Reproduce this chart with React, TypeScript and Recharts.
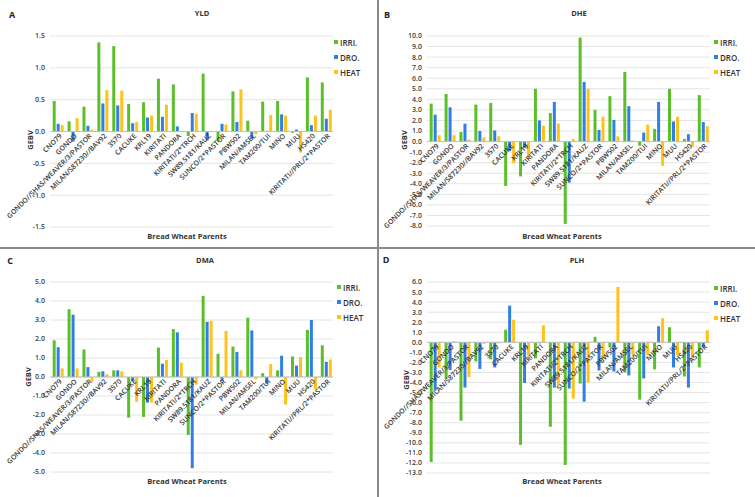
import React from 'react';
import { BarChart, Bar, XAxis, YAxis, CartesianGrid, ReferenceLine, ReferenceDot } from 'recharts';

const FONT = '"Open Sans", "Liberation Sans", sans-serif';

const categories = [
  'CNO79', 'GONDO', 'GONDO//SHAS/WEAVER/3/PASTOR', 'MILAN/S87230//BAV92', '3570', 'CACUKE', 'KRL19',
  'KIRITATI', 'PANDORA', 'KIRITATI/2*TRCH', 'SW89.5181/KAUZ', 'SUNCO/2*PASTOR', 'PBW502', 'MILAN/AMSEL',
  'TAM200/TUI', 'MINO', 'MUU', 'HS420', 'KIRITATI//PRL/2*PASTOR',
];

const seriesNames = ['IRRI.', 'DRO.', 'HEAT'];
const seriesColors = ['#5cbf2a', '#2f7fe6', '#ffc21a'];

// A: YLD
const yldIrri = [0.48, 0.16, 0.39, 1.40, 1.34, 0.43, 0.46, 0.83, 0.74, -0.07, 0.91, -0.15, 0.63, 0.17, 0.47, 0.48, -0.02, 0.85, 0.77];
const yldDro = [0.12, -0.16, 0.09, 0.44, 0.41, 0.13, 0.22, 0.23, 0.08, 0.29, -0.14, 0.12, 0.15, -0.12, 0.01, 0.27, 0.03, 0.10, 0.20];
const yldHeat = [0.10, 0.21, 0.03, 0.65, 0.64, 0.15, 0.25, 0.42, -0.01, 0.28, 0.01, 0.11, 0.66, -0.04, 0.26, 0.25, -0.33, 0.25, 0.34];
const yldTicks = [-1.5, -1.0, -0.5, 0.0, 0.5, 1.0, 1.5];

// B: DHE
const dheIrri = [3.6, 4.5, 0.9, 3.5, 3.65, -4.2, -3.3, 5.0, 2.7, -7.8, 9.85, 3.0, 4.3, 6.6, -0.4, 1.2, 5.0, 0.25, 4.4];
const dheDro = [2.55, 3.25, 1.7, 1.0, 1.05, -0.9, -0.6, 2.0, 3.75, -3.9, 5.65, 1.1, 2.05, 3.35, 0.85, 3.75, 1.9, 0.7, 1.85];
const dheHeat = [0.6, 0.6, 0.2, 0.4, 0.5, -2.05, -1.5, 1.5, 1.7, 0.25, 5.0, 2.35, 0.5, 0.1, 1.6, -2.3, 2.35, -0.5, 1.45];
const dheTicks = [-8, -7, -6, -5, -4, -3, -2, -1, 0, 1, 2, 3, 4, 5, 6, 7, 8, 9, 10];

// C: DMA
const dmaIrri = [1.93, 3.57, 1.45, 0.27, 0.35, -2.15, -2.1, 1.55, 2.52, -3.05, 4.27, 1.22, 1.6, 3.12, 0.2, 0.35, 1.08, 2.48, 1.67];
const dmaDro = [1.57, 3.28, 0.52, 0.3, 0.35, -0.2, -1.35, 0.7, 2.35, -4.8, 2.9, -0.2, 1.32, 2.45, -0.35, 1.12, 0.6, 3.0, 0.8];
const dmaHeat = [0.45, 0.45, -0.25, 0.15, 0.3, -1.3, -1.35, 0.9, 0.75, -0.4, 2.95, 2.42, 0.35, -0.12, 0.68, -1.45, 1.05, -0.65, 0.92];
const dmaTicks = [-5, -4, -3, -2, -1, 0, 1, 2, 3, 4, 5];

// D: PLH
const plhIrri = [-11.9, -3.6, -7.8, -1.9, -1.7, 1.25, -10.2, -1.6, -8.4, -12.2, -4.1, 0.55, -0.5, -3.0, -5.7, -2.7, 1.5, -3.4, -2.5];
const plhDro = [-4.8, -2.75, -4.5, -2.65, -2.5, 3.65, -4.05, -0.1, -4.5, -4.6, -5.9, -2.8, -2.9, -3.3, -3.6, 1.6, -2.5, -4.5, -0.45];
const plhHeat = [-2.5, 0.1, -3.45, -0.15, -0.1, 2.25, -1.35, 1.7, -4.3, -5.6, -4.0, -1.65, 5.5, -1.3, -1.3, 2.4, -1.3, -1.6, 1.2];
const plhTicks = [-13, -12, -11, -10, -9, -8, -7, -6, -5, -4, -3, -2, -1, 0, 1, 2, 3, 4, 5, 6];

const CatLabel = (props: any) => {
  const { cx, cy, text } = props;
  const ax = cx + 5;
  const ay = cy + 5;
  return (
    <text
      x={ax}
      y={ay}
      transform={`rotate(-45 ${ax} ${ay})`}
      textAnchor="end"
      fontSize={7}
      fontFamily={FONT}
      fontWeight={600}
      fill="#333333"
    >
      {text}
    </text>
  );
};

type PanelCfg = {
  letter: string;
  title: string;
  irri: number[];
  dro: number[];
  heat: number[];
  ticks: number[];
  x: number;
  y: number;
  w: number;
  h: number;
  mTop: number;
  xH: number;
  letterPos: [number, number];
  titlePos: [number, number];
  gebvPos: [number, number];
  bwpPos: [number, number];
  legendPos: [number, number];
};

const abs = (x: number, y: number, extra: any = {}) => ({
  position: 'absolute' as const,
  left: x,
  top: y,
  transform: 'translate(-50%, -50%)',
  whiteSpace: 'nowrap' as const,
  fontFamily: FONT,
  lineHeight: 1,
  ...extra,
});

function Panel(c: PanelCfg) {
  const data = categories.map((name, i) => ({ name, irri: c.irri[i], dro: c.dro[i], heat: c.heat[i] }));
  const keys = ['irri', 'dro', 'heat'];
  return (
    <div style={{ position: 'absolute', left: c.x, top: c.y, width: c.w, height: c.h }}>
      <BarChart
        width={c.w}
        height={c.h}
        data={data}
        margin={{ top: c.mTop, right: c.w - 333, bottom: 0, left: 0 }}
        barCategoryGap="18%"
        barGap={1}
      >
        <CartesianGrid vertical={false} stroke="#e4e4e4" />
        <XAxis dataKey="name" tick={false} tickLine={false} axisLine={false} height={c.xH} />
        <YAxis
          width={50}
          domain={[c.ticks[0], c.ticks[c.ticks.length - 1]]}
          ticks={c.ticks}
          interval={0}
          tickFormatter={(v: number) => v.toFixed(1)}
          axisLine={false}
          tickLine={false}
          tickSize={0}
          tickMargin={5}
          tick={{ fontSize: 7, fill: '#404040', fontFamily: FONT, fontWeight: 600 }}
        />
        <ReferenceLine y={0} stroke="#bfbfbf" />
        {keys.map((k, i) => (
          <Bar key={k} dataKey={k} name={seriesNames[i]} fill={seriesColors[i]} isAnimationActive={false} />
        ))}
        {categories.map((cat) => (
          <ReferenceDot
            key={cat}
            x={cat}
            y={0}
            r={0}
            ifOverflow="visible"
            shape={(p: any) => <CatLabel {...p} text={cat} />}
          />
        ))}
      </BarChart>
      <div style={abs(c.letterPos[0], c.letterPos[1], { fontSize: 9, fontWeight: 700, color: '#222' })}>{c.letter}</div>
      <div style={abs(c.titlePos[0], c.titlePos[1], { fontSize: 7.5, fontWeight: 700, color: '#333' })}>{c.title}</div>
      <div style={abs(c.gebvPos[0], c.gebvPos[1], { fontSize: 7.5, fontWeight: 700, color: '#333', transform: 'translate(-50%, -50%) rotate(-90deg)' })}>GEBV</div>
      <div style={abs(c.bwpPos[0], c.bwpPos[1], { fontSize: 7.5, fontWeight: 700, color: '#333' })}>Bread Wheat Parents</div>
      {seriesNames.map((n, i) => (
        <div
          key={n}
          style={{
            position: 'absolute',
            left: c.legendPos[0],
            top: c.legendPos[1] + i * 15 - 5,
            height: 10,
            display: 'flex',
            alignItems: 'center',
            fontFamily: FONT,
            fontSize: 8,
            fontWeight: 600,
            color: '#333',
            whiteSpace: 'nowrap',
          }}
        >
          <span style={{ display: 'inline-block', width: 4, height: 4, background: seriesColors[i], marginRight: 2 }} />
          {n}
        </div>
      ))}
    </div>
  );
}

export default function App() {
  return (
    <div style={{ position: 'absolute', left: 0, top: 0, width: 755, height: 497, background: '#fff', overflow: 'hidden' }}>
      <Panel
        letter="A" title="YLD" irri={yldIrri} dro={yldDro} heat={yldHeat} ticks={yldTicks}
        x={0} y={0} w={377} h={248} mTop={36} xH={21}
        letterPos={[12, 14]} titlePos={[202, 14]} gebvPos={[31, 140]} bwpPos={[187, 237]} legendPos={[334, 42]}
      />
      <Panel
        letter="B" title="DHE" irri={dheIrri} dro={dheDro} heat={dheHeat} ticks={dheTicks}
        x={377} y={0} w={378} h={248} mTop={36} xH={22}
        letterPos={[10, 14]} titlePos={[202, 14]} gebvPos={[28, 140]} bwpPos={[185, 237]} legendPos={[337, 42]}
      />
      <Panel
        letter="C" title="DMA" irri={dmaIrri} dro={dmaDro} heat={dmaHeat} ticks={dmaTicks}
        x={0} y={250} w={377} h={247} mTop={32} xH={25}
        letterPos={[10, 10]} titlePos={[205, 11]} gebvPos={[29, 127]} bwpPos={[187, 232]} legendPos={[337, 37]}
      />
      <Panel
        letter="D" title="PLH" irri={plhIrri} dro={plhDro} heat={plhHeat} ticks={plhTicks}
        x={377} y={250} w={378} h={247} mTop={32} xH={24}
        letterPos={[9, 9]} titlePos={[200, 11]} gebvPos={[30, 130]} bwpPos={[185, 232]} legendPos={[337, 38]}
      />
      <div style={{ position: 'absolute', left: 0, top: 247, width: 755, height: 1.5, background: '#8a8a8a' }} />
      <div style={{ position: 'absolute', left: 377, top: 0, width: 1.5, height: 497, background: '#8a8a8a' }} />
    </div>
  );
}
